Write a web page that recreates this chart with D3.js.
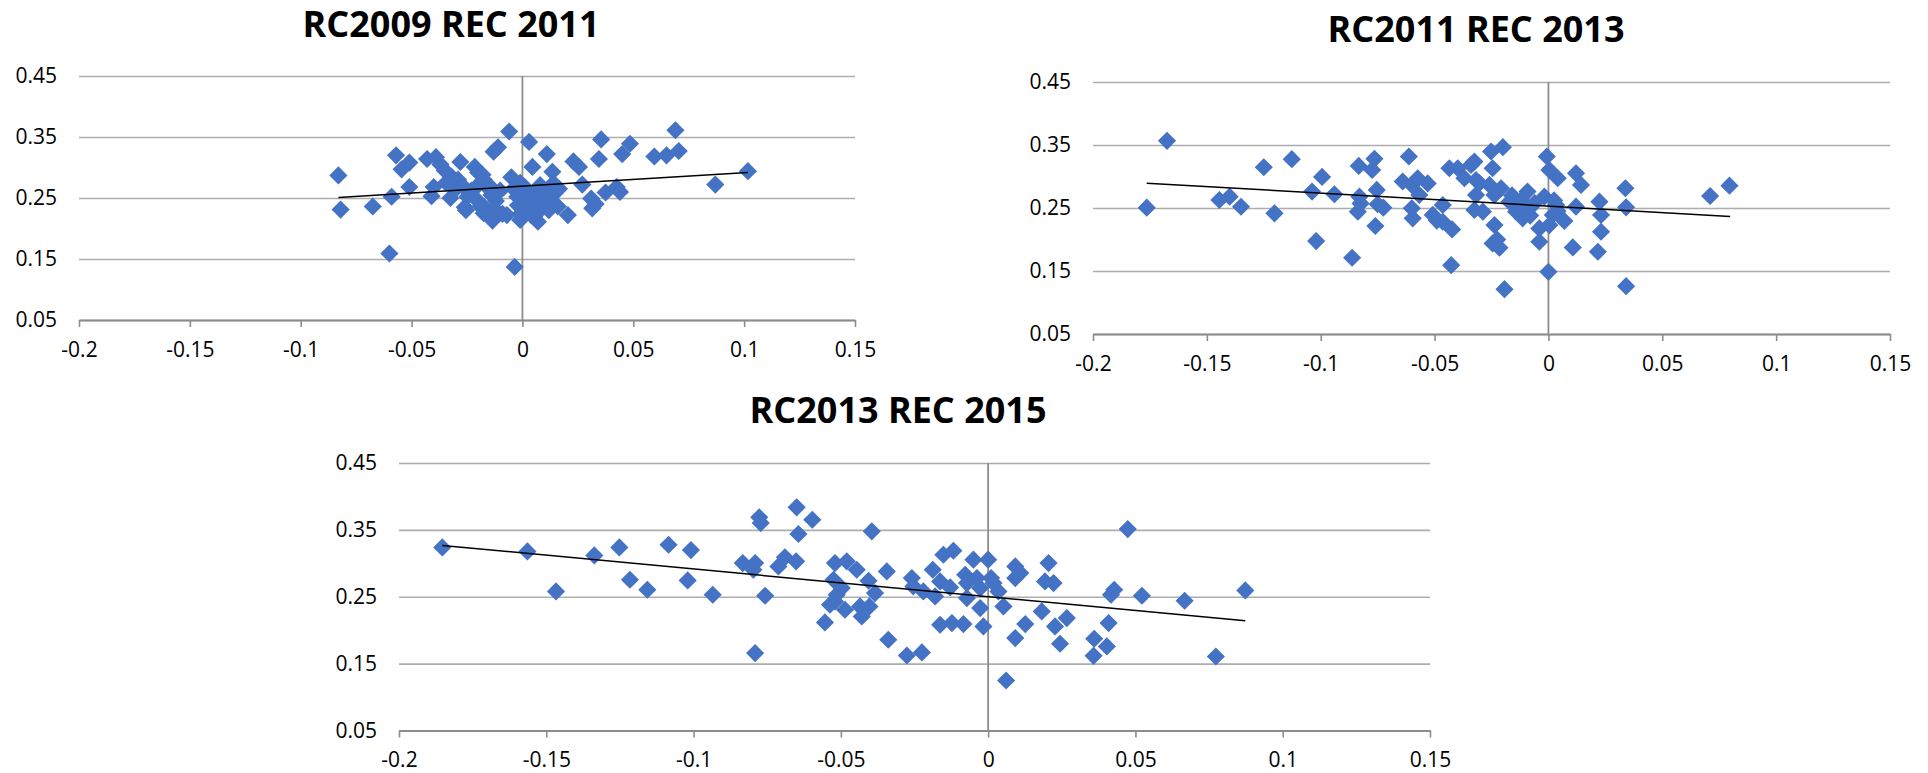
<!DOCTYPE html>
<html>
<head>
<meta charset="utf-8">
<script src="https://cdn.jsdelivr.net/npm/d3@7"></script>
<style>
  body { margin: 0; background: #fff; }
  svg { display: block; }
  .axis text { font-family: "Open Sans", sans-serif; font-size: 21px; fill: #000; }
  .title { font-family: "Open Sans", sans-serif; font-size: 36px; font-weight: bold; fill: #000; }
</style>
</head>
<body>
<svg id="chart" width="1928" height="773"></svg>
<script>
const xTicks = [-0.2, -0.15, -0.1, -0.05, 0, 0.05, 0.1, 0.15];
const yTicks = [0.05, 0.15, 0.25, 0.35, 0.45];

const titles = ["RC2009 REC 2011", "RC2011 REC 2013", "RC2013 REC 2015"];

const rc2009 = [
  [-0.083,0.287],[-0.082,0.231],[-0.0675,0.236],[-0.059,0.252],[-0.060,0.159],[-0.057,0.320],[-0.0545,0.297],
  [-0.051,0.308],[-0.051,0.268],[-0.043,0.314],[-0.039,0.317],[-0.037,0.305],[-0.035,0.295],[-0.041,0.253],
  [-0.040,0.268],[-0.0325,0.250],[-0.0345,0.275],[-0.032,0.285],[-0.030,0.265],[-0.028,0.309],[-0.029,0.280],
  [-0.027,0.270],[-0.026,0.235],[-0.0255,0.230],[-0.0248,0.252],[-0.023,0.262],[-0.0215,0.301],[-0.020,0.292],
  [-0.018,0.288],[-0.020,0.271],[-0.0203,0.246],[-0.019,0.236],[-0.0173,0.235],[-0.0175,0.225],[-0.0175,0.280],
  [-0.016,0.268],[-0.0143,0.268],[-0.0135,0.213],[-0.013,0.326],[-0.011,0.333],[-0.014,0.255],[-0.012,0.245],
  [-0.010,0.262],[-0.0125,0.232],[-0.009,0.224],[-0.006,0.359],[-0.0035,0.137],[-0.005,0.284],[-0.007,0.222],
  [-0.004,0.265],[-0.0023,0.252],[-0.002,0.238],[-0.001,0.214],[-0.001,0.275],[-0.0008,0.224],[0.000,0.258],
  [0.001,0.228],[0.002,0.245],[0.003,0.342],[0.0045,0.301],[0.001,0.268],[0.0038,0.252],[0.004,0.222],
  [0.0053,0.219],[0.005,0.255],[0.006,0.238],[0.007,0.211],[0.008,0.271],[0.008,0.230],[0.009,0.249],
  [0.010,0.262],[0.011,0.322],[0.0119,0.230],[0.0125,0.245],[0.0135,0.293],[0.014,0.274],[0.0145,0.258],
  [0.014,0.241],[0.016,0.236],[0.0165,0.265],[0.0205,0.222],[0.023,0.310],[0.0255,0.301],[0.027,0.272],
  [0.0315,0.233],[0.031,0.249],[0.033,0.240],[0.0345,0.314],[0.0355,0.346],[0.0375,0.259],[0.0425,0.268],
  [0.044,0.260],[0.045,0.322],[0.0485,0.339],[0.0595,0.318],[0.065,0.320],[0.069,0.361],[0.0705,0.327],
  [0.087,0.272],[0.1017,0.294]
];
const trend2009 = [[-0.083, 0.251], [0.1017, 0.292]];

const rc2011 = [
  [-0.1764,0.2505],[-0.1675,0.3566],[-0.1445,0.2627],[-0.140,0.268],[-0.135,0.252],[-0.125,0.3147],
  [-0.1203,0.2415],[-0.1127,0.3275],[-0.1038,0.276],[-0.102,0.1975],[-0.0994,0.2993],[-0.094,0.2718],
  [-0.0862,0.171],[-0.0837,0.244],[-0.0833,0.3168],[-0.083,0.268],[-0.0825,0.257],[-0.0774,0.3105],
  [-0.0764,0.328],[-0.076,0.2214],[-0.0754,0.2787],[-0.075,0.256],[-0.0725,0.2505],[-0.064,0.292],
  [-0.0613,0.3317],[-0.060,0.2866],[-0.060,0.2495],[-0.0596,0.2336],[-0.0574,0.2972],[-0.0567,0.2707],
  [-0.053,0.289],[-0.0508,0.239],[-0.049,0.230],[-0.0464,0.2548],[-0.0464,0.2282],[-0.0435,0.3131],
  [-0.0423,0.216],[-0.0427,0.1593],[-0.0398,0.3131],[-0.0369,0.2972],[-0.034,0.3184],[-0.0325,0.3237],
  [-0.0318,0.2945],[-0.0303,0.2893],[-0.0318,0.2707],[-0.0325,0.2468],[-0.0288,0.2442],[-0.0252,0.3397],
  [-0.0200,0.3466],[-0.0245,0.3131],[-0.0259,0.2866],[-0.0237,0.2707],[-0.0208,0.2813],[-0.0237,0.2229],
  [-0.0245,0.1938],[-0.0215,0.1869],[-0.0225,0.200],[-0.0193,0.1211],[-0.0171,0.2601],[-0.016,0.270],
  [-0.0142,0.2442],[-0.012,0.262],[-0.0113,0.2336],[-0.0083,0.2495],[-0.008,0.238],[-0.0092,0.276],
  [-0.006,0.258],[-0.004,0.2176],[-0.004,0.1964],[-0.0018,0.268],[-0.0007,0.3317],[0.0004,0.3105],
  [0.0041,0.2972],[0.0019,0.2389],[0.0004,0.2229],[0.0034,0.2548],[0.0025,0.262],[0.004,0.245],
  [0.007,0.2293],[0.000,0.1487],[0.0107,0.1874],[0.0121,0.3052],[0.0143,0.2866],[0.0121,0.2521],
  [0.0217,0.1805],[0.0231,0.2123],[0.0224,0.2601],[0.0231,0.2389],[0.0338,0.2813],[0.0341,0.2511],
  [0.0341,0.1259],[0.071,0.2691],[0.0795,0.2855]
];
const trend2011 = [[-0.1764, 0.2893], [0.0798, 0.2367]];

const rc2013 = [
  [-0.1853,0.3238],[-0.1564,0.3178],[-0.1467,0.258],[-0.1337,0.3118],[-0.1252,0.3238],[-0.1216,0.2754],
  [-0.1157,0.2605],[-0.1085,0.3278],[-0.1009,0.3198],[-0.102,0.2744],[-0.0935,0.253],[-0.0833,0.3004],
  [-0.0791,0.3004],[-0.0797,0.2904],[-0.0777,0.3687],[-0.0772,0.3602],[-0.0757,0.2515],[-0.0791,0.1657],
  [-0.0712,0.2954],[-0.069,0.3089],[-0.0652,0.3029],[-0.065,0.3837],[-0.0644,0.3438],[-0.0597,0.3652],
  [-0.052,0.3004],[-0.048,0.3029],[-0.0446,0.2904],[-0.0525,0.2754],[-0.0497,0.263],[-0.0514,0.253],
  [-0.052,0.243],[-0.0537,0.238],[-0.0486,0.2305],[-0.0554,0.2116],[-0.0435,0.2355],[-0.0429,0.2206],
  [-0.0403,0.2355],[-0.0406,0.2739],[-0.0384,0.2555],[-0.0395,0.3478],[-0.0344,0.2879],[-0.0339,0.1857],
  [-0.0276,0.1622],[-0.0225,0.1667],[-0.0259,0.2779],[-0.0254,0.2655],[-0.022,0.258],[-0.0188,0.2904],
  [-0.018,0.2505],[-0.0163,0.2729],[-0.0152,0.3128],[-0.0118,0.3188],[-0.0129,0.264],[-0.0163,0.2081],
  [-0.0123,0.2106],[-0.0084,0.2091],[-0.0078,0.2829],[-0.0072,0.2704],[-0.005,0.3054],[-0.0072,0.248],
  [-0.0038,0.2779],[-0.0027,0.263],[-0.0027,0.233],[-0.0016,0.2056],[0.000,0.3054],[0.001,0.278],
  [0.0018,0.2704],[0.0035,0.258],[0.0052,0.2355],[0.0061,0.1248],[0.0092,0.2954],[0.0109,0.2854],
  [0.0092,0.2779],[0.0126,0.2091],[0.0092,0.1882],[0.0182,0.2281],[0.0205,0.3004],[0.0193,0.2729],
  [0.0222,0.2704],[0.0227,0.2056],[0.0267,0.2181],[0.0244,0.1797],[0.036,0.1872],[0.0358,0.1617],
  [0.0403,0.1757],[0.0409,0.2106],[0.0417,0.253],[0.0428,0.2605],[0.0474,0.3512],[0.0522,0.2515],
  [0.0667,0.244],[0.0773,0.1607],[0.0873,0.2595]
];
const trend2013 = [[-0.1853, 0.3268], [0.0873, 0.2141]];

const xFormat = d => d === 0 ? "0" : String(+d.toFixed(2));

const scatter = function (svg, title, points, trend, box) {
  const x = d3.scaleLinear().domain([-0.2, 0.15]).range([box.left, box.right]);
  const y = d3.scaleLinear().domain([0.05, 0.45]).range([box.bottom, box.top]);

  const g = svg.append("g");

  // horizontal gridlines + y labels on the left edge
  g.append("g")
    .attr("class", "axis")
    .attr("transform", `translate(${box.left},0)`)
    .call(d3.axisLeft(y).tickValues(yTicks).tickFormat(d3.format(".2f"))
      .tickSize(-(box.right - box.left)).tickPadding(22))
    .call(g => g.select(".domain").remove())
    .call(g => g.selectAll(".tick line").attr("stroke", "#adadad").attr("stroke-width", 1.7));

  // vertical axis crossing at x = 0
  g.append("line")
    .attr("x1", x(0)).attr("x2", x(0))
    .attr("y1", y(0.45)).attr("y2", y(0.05))
    .attr("stroke", "#8c8c8c")
    .attr("stroke-width", 1.8);

  g.append("g")
    .attr("class", "axis")
    .attr("transform", `translate(0,${box.bottom})`)
    .call(d3.axisBottom(x).tickValues(xTicks).tickFormat(xFormat)
      .tickSize(7).tickSizeOuter(0).tickPadding(15))
    .call(g => g.select(".domain").attr("stroke", "#8c8c8c").attr("stroke-width", 2.2))
    .call(g => g.selectAll(".tick line").attr("stroke", "#8c8c8c").attr("stroke-width", 1.6));

  g.append("g")
    .selectAll("path")
    .data(points)
    .enter()
    .append("path")
    .attr("d", d3.symbol(d3.symbolSquare, 165))
    .attr("transform", d => `translate(${x(d[0])},${y(d[1])}) rotate(45)`)
    .attr("fill", "#4472c4");

  g.append("path")
    .datum(trend)
    .attr("fill", "none")
    .attr("stroke", "#000")
    .attr("stroke-width", 1.5)
    .attr("d", d3.line().x(d => x(d[0])).y(d => y(d[1])));

  g.append("text")
    .attr("class", "title")
    .attr("x", box.titleX)
    .attr("y", box.titleY)
    .attr("text-anchor", "middle")
    .text(title);
};

const svg = d3.select("#chart");

scatter(svg, titles[0], rc2009, trend2009,
  {left: 79, right: 855, top: 76, bottom: 320, titleX: 451, titleY: 37});
scatter(svg, titles[1], rc2011, trend2011,
  {left: 1093, right: 1890, top: 82, bottom: 334, titleX: 1476, titleY: 42});
scatter(svg, titles[2], rc2013, trend2013,
  {left: 399, right: 1430, top: 463, bottom: 730.5, titleX: 898, titleY: 423});
</script>
</body>
</html>
